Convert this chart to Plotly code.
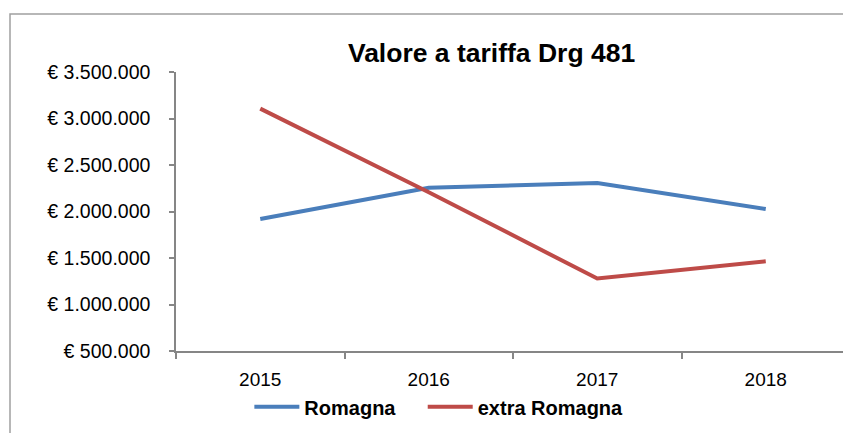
"""
Line chart: Valore a tariffa Drg 481, Romagna vs extra Romagna.
"""

import plotly.graph_objects as go

YEARS = ["2015", "2016", "2017", "2018"]
ROMAGNA = [1920000, 2255000, 2306000, 2027000]
EXTRA_ROMAGNA = [3106000, 2207000, 1279000, 1465000]
Y_TICKS = [500000, 1000000, 1500000, 2000000, 2500000, 3000000, 3500000]
Y_LABELS = ["€ 500.000", "€ 1.000.000", "€ 1.500.000", "€ 2.000.000",
            "€ 2.500.000", "€ 3.000.000", "€ 3.500.000"]

BLUE = "#4A7EBB"
RED = "#BE4B48"
AXIS = "#868686"
FONT = "Liberation Sans"
NBSP = "\u00a0"

fig = go.Figure()
fig.add_trace(go.Scatter(
    x=YEARS, y=ROMAGNA, mode="lines", name=f"<b>Romagna</b>{NBSP * 4}",
    line=dict(color=BLUE, width=4),
))
fig.add_trace(go.Scatter(
    x=YEARS, y=EXTRA_ROMAGNA, mode="lines", name="<b>extra Romagna</b>",
    line=dict(color=RED, width=4),
))

# outer chart frame (only left and top edges fall inside the crop)
fig.add_shape(type="rect", xref="paper", yref="paper",
              x0=-166 / 674, x1=1.2, y0=-0.6, y1=1 + 58 / 279,
              line=dict(color="#A0A0A0", width=1.5), layer="below")

# the page body adds an 8px margin, so the figure is 8px smaller
fig.update_layout(
    width=843, height=425,
    margin=dict(l=168, r=1, t=64, b=82),
    paper_bgcolor="white", plot_bgcolor="white",
    font=dict(family=FONT, color="#000000", size=19),
    title=dict(
        text="<b>Valore a tariffa Drg 481</b>",
        font=dict(family=FONT, size=26.5, color="#000000"),
        x=0.5736, xanchor="center", y=0.894, yanchor="middle",
        xref="container", yref="container",
    ),
    xaxis=dict(
        range=[-0.5, 3.5],
        showgrid=False, showline=True, linecolor=AXIS, linewidth=1.5,
        ticks="outside", ticklen=6, tickcolor=AXIS, tickwidth=1.5,
        tickson="boundaries", ticklabelstandoff=10,
        tickfont=dict(size=19), zeroline=False,
    ),
    yaxis=dict(
        range=[500000, 3500000], tickvals=Y_TICKS, ticktext=Y_LABELS,
        showgrid=False, showline=True, linecolor=AXIS, linewidth=1.5,
        ticks="outside", ticklen=5, tickcolor=AXIS, tickwidth=1.5,
        ticklabelstandoff=15, tickfont=dict(size=19.5), zeroline=False,
    ),
    legend=dict(
        orientation="h", x=0.39, xanchor="center", y=-0.2, yanchor="middle",
        font=dict(size=20, family=FONT), bgcolor="rgba(0,0,0,0)",
        itemwidth=45,
    ),
)
fig.update_traces(hovertemplate="%{y}<extra></extra>")

fig.write_html("out.html")
